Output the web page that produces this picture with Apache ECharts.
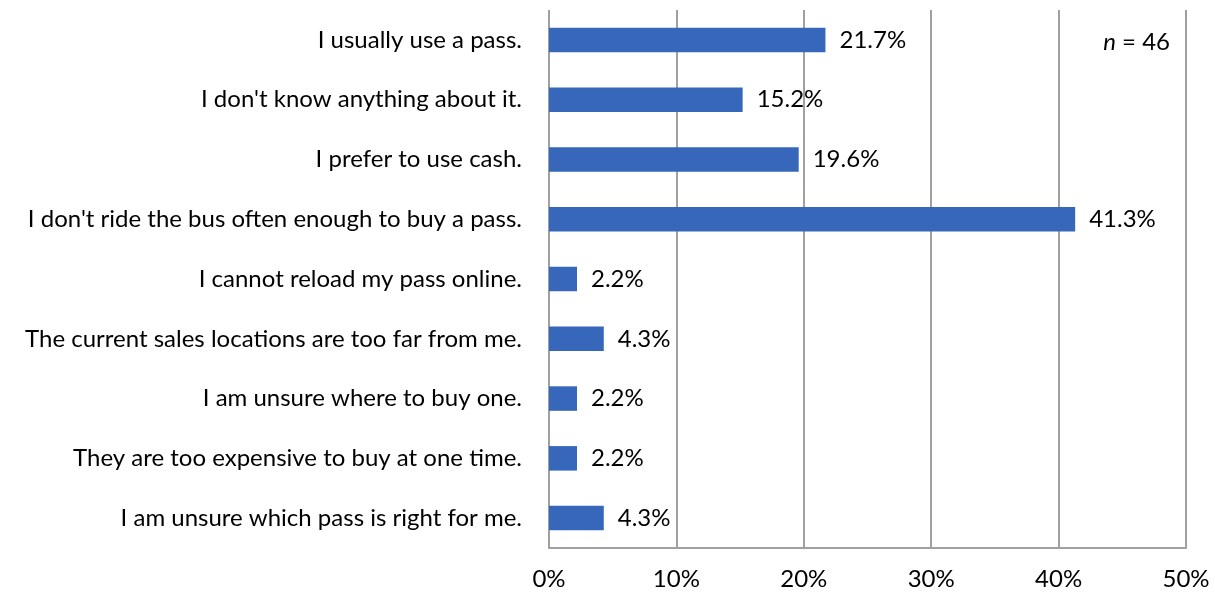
<!DOCTYPE html>
<html><head><meta charset="utf-8">
<script src="https://cdn.jsdelivr.net/npm/echarts@6/dist/echarts.min.js"></script>
<style>html,body{margin:0;padding:0;background:#fff}#c{width:1215px;height:595px}</style>
</head><body><div id="c"></div>
<script>
const categories = [
  "I usually use a pass.",
  "I don't know anything about it.",
  "I prefer to use cash.",
  "I don't ride the bus often enough to buy a pass.",
  "I cannot reload my pass online.",
  "The current sales locations are too far from me.",
  "I am unsure where to buy one.",
  "They are too expensive to buy at one time.",
  "I am unsure which pass is right for me."
];
const values = [21.7, 15.2, 19.6, 41.3, 2.2, 4.3, 2.2, 2.2, 4.3];
const sampleNote = "46";
const FONT = "Lato";
const FS = 24;
const chart = echarts.init(document.getElementById('c'), null, {renderer:'canvas'});
chart.setOption({
  animation:false,
  backgroundColor:'#fff',
  textStyle:{fontFamily:FONT},
  grid:{left:549, right:29, top:10, bottom:47, containLabel:false},
  xAxis:{type:'value', min:0, max:50, interval:10,
    axisLine:{show:true, lineStyle:{color:'#a0a0a0', width:2}},
    axisTick:{show:false},
    splitLine:{show:true, lineStyle:{color:'#a0a0a0', width:2}},
    axisLabel:{formatter:'{value}%', color:'#000', fontSize:FS, fontFamily:FONT, margin:19}
  },
  yAxis:{type:'category', data:categories, inverse:true,
    axisLine:{show:false}, axisTick:{show:false},
    axisLabel:{color:'#000', fontSize:FS, fontFamily:FONT, margin:27}
  },
  series:[{type:'bar', data:values, barWidth:'41%',
    itemStyle:{color:'#3767BA'},
    label:{show:true, position:'right', distance:14, color:'#000', fontSize:FS, fontFamily:FONT,
      formatter:p=>p.value.toFixed(1)+'%'}
  }],
  graphic:[{type:'text', right:45, top:30,
    style:{rich:{i:{fontStyle:'italic', fontSize:FS, fontFamily:FONT, fill:'#000'}, r:{fontSize:FS, fontFamily:FONT, fill:'#000'}},
      text:'{i|n}{r| = '+sampleNote+'}'}}]
});
</script></body></html>
